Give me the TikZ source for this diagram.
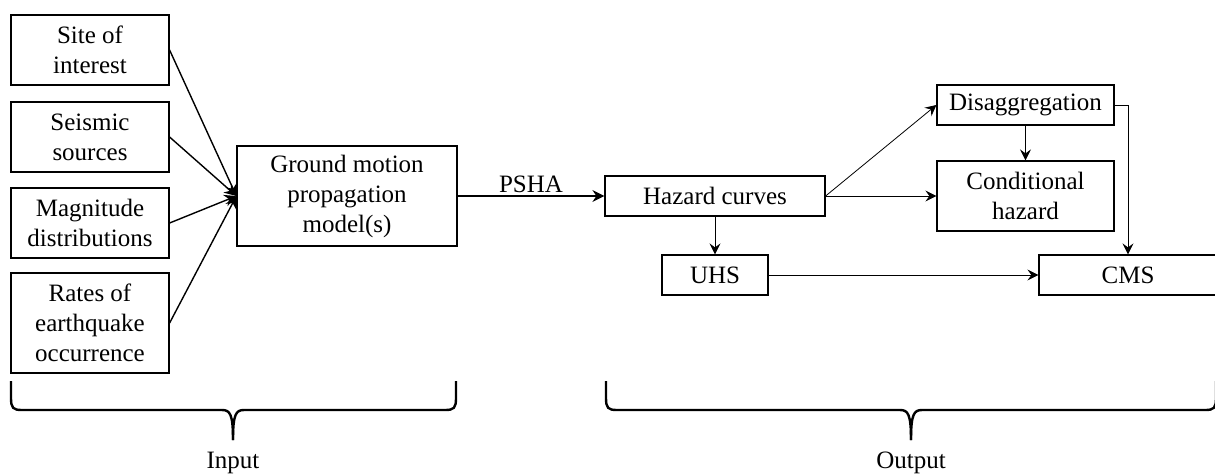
\documentclass[tikz,border=0pt]{standalone}
\usepackage{fontspec}
\setmainfont{Liberation Serif}
\usepackage{tikz}
\usetikzlibrary{arrows.meta,calc}
\tikzset{
  box/.style={draw, line width=1.2pt, align=center, inner sep=0pt,
    font=\fontsize{25}{30}\selectfont},
  arin/.style={line width=1.4pt, -{Stealth[length=12pt,width=12pt,inset=4pt]}},
  arout/.style={line width=0.8pt, -{Stealth[length=11pt,width=11pt,inset=4pt]}},
  brc/.style={line width=2.4pt},
  lbl/.style={font=\fontsize{25}{30}\selectfont, anchor=base, inner sep=0pt}
}

\begin{document}
\begin{tikzpicture}[x=1pt,y=-1pt]
      \useasboundingbox (0,0) rectangle (1215,475);
      % inputs
      \node[box, minimum width=158, minimum height=70] (site) at (90,50) {Site of\\interest};
      \node[box, minimum width=158, minimum height=70] (src) at (90,137) {Seismic\\sources};
      \node[box, minimum width=158, minimum height=70] (mag) at (90,223) {Magnitude\\distributions};
      \node[box, minimum width=158, minimum height=100] (rate) at (90,323) {Rates of\\earthquake\\occurrence};
      \node[box, minimum width=220, minimum height=100] (gm) at (347,196) {Ground motion\\propagation\\model(s)};
      % outputs
      \node[box, minimum width=220, minimum height=40] (haz) at (715,196) {Hazard curves};
      \node[box, minimum width=106, minimum height=40] (uhs) at (715,275) {UHS};
      \node[box, minimum width=177, minimum height=40] (dis) at (1025.5,105) {Disaggregation};
      \node[box, minimum width=177, minimum height=70] (cond) at (1025.5,196) {Conditional\\hazard};
      \node[box, minimum width=178, minimum height=40] (cms) at (1128,275) {CMS};
      % arrows
      \draw[arin] (site.east) -- (gm.west);
      \draw[arin] (src.east) -- (gm.west);
      \draw[arin] (mag.east) -- (gm.west);
      \draw[arin] (rate.east) -- (gm.west);
      \draw[arin] (gm.east) -- node[above, inner sep=3pt, font=\fontsize{25}{30}\selectfont] (psha) {PSHA} (haz.west);
      \draw[arout] (haz.east) -- (dis.west);
      \draw[arout] (haz.east) -- (cond.west);
      \draw[arout] (dis.south) -- (cond.north);
      \draw[arout] (haz.south) -- (uhs.north);
      \draw[arout] (uhs.east) -- (cms.west);
      \draw[arout] (dis.east) -| (cms.north);
      % braces
      \draw[brc] (11,381) -- (11,398) .. controls (11,408) and (13,410) .. (22,410) -- (222,410) .. controls (230,410) and (233,414) .. (233,440);
      \draw[brc] (456,381) -- (456,398) .. controls (456,408) and (454,410) .. (445,410) -- (244,410) .. controls (236,410) and (233,414) .. (233,440);
      \draw[brc] (606,381) -- (606,398) .. controls (606,408) and (608,410) .. (617,410) -- (900,410) .. controls (908,410) and (911,414) .. (911,440);
      \draw[brc] (1216,381) -- (1216,398) .. controls (1216,408) and (1214,410) .. (1205,410) -- (922,410) .. controls (914,410) and (911,414) .. (911,440);
      \node[lbl] (inp) at (233,468) {Input};
      \node[lbl] (outp) at (911,468) {Output};
\end{tikzpicture}
\end{document}
